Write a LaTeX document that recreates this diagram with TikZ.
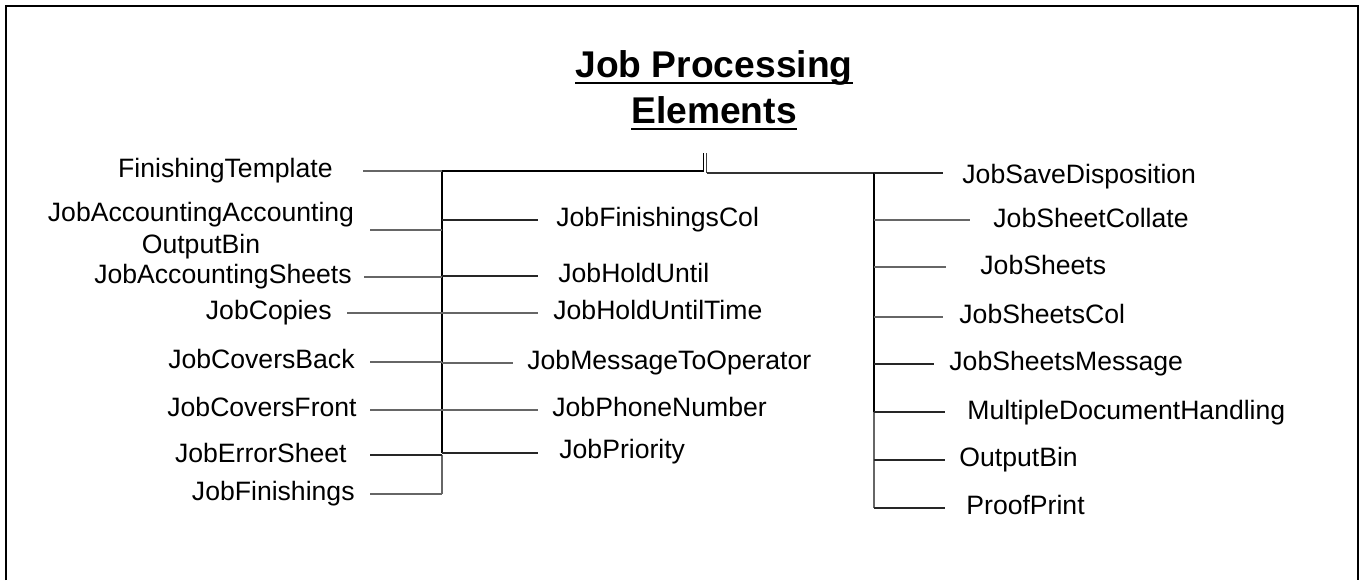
\documentclass[tikz,border=0pt]{standalone}
\usepackage{fontspec}
\setmainfont{Liberation Sans}
\newcommand\myul[1]{\setbox0\hbox{#1}\rlap{\rule[-3.6pt]{\wd0}{1.1pt}}\box0}
\begin{document}
\begin{tikzpicture}[x=0.5pt,y=-0.5pt,
  lbl/.style={inner sep=0pt, font=\fontsize{13.3}{16}\selectfont, text height=9.6pt, text depth=2.8pt},
  lbl2/.style={inner sep=0pt, font=\fontsize{13.3}{16}\selectfont, align=center},
  ttl/.style={inner sep=0pt, font=\fontsize{18.6}{23}\selectfont\bfseries, anchor=base},
  trunk/.style={line width=1pt, black},
  trunkg/.style={line width=0.7pt, black!60},
  br/.style={line width=0.6pt, black!85},
  brg/.style={line width=0.6pt, black!60},
  frame/.style={line width=1.1pt, black}]
\useasboundingbox (0,0) rectangle (1364,580);
% frame (top, left, right; no bottom)
\draw[frame] (6,580) -- (6,6) -- (1358,6) -- (1358,580);
% title
\node[ttl] (title1) at (714,77) {\myul{Job Processing}};
\node[ttl] (title2) at (714,123) {\myul{Elements}};
% junction coordinates
\coordinate (top) at (703.5,153);
\coordinate (topL) at (703.5,171);
\coordinate (topR) at (706.5,173);
\coordinate (topR0) at (706.5,153);
\coordinate (L0) at (442,171);
\coordinate (L1) at (442,230);
\coordinate (L2) at (442,277);
\coordinate (L3) at (442,313);
\coordinate (L4) at (442,362);
\coordinate (L5) at (442,410);
\coordinate (L6) at (442,455);
\coordinate (L7) at (442,494);
\coordinate (M1) at (442,220);
\coordinate (M2) at (442,276);
\coordinate (M3) at (442,313);
\coordinate (M4) at (442,363);
\coordinate (M5) at (442,410);
\coordinate (M6) at (442,453);
\coordinate (R0) at (874,173);
\coordinate (R2) at (874,220);
\coordinate (R3) at (874,267);
\coordinate (R4) at (874,317);
\coordinate (R5) at (874,364);
\coordinate (R6) at (874,412);
\coordinate (R7) at (874,460);
\coordinate (R8) at (874,508);
% main structure
\draw[line width=0.8pt] (top) -- (topL);
\draw[line width=0.8pt, black!75] (topR0) -- (topR);
\draw[trunk] (topL) -- (L0) -- (M6);
\draw[trunkg] (L6) -- (L7);
\draw[line width=0.8pt, black!80] (topR) -- (R0);
\draw[trunk] (R0) -- (R6);
\draw[trunkg] (R6) -- (R8);
% left labels
\node[lbl, anchor=east] (ft) at (333,171) {FinishingTemplate};
\node[lbl2] (jaa) at (201,231) {JobAccountingAccounting\\OutputBin};
\node[lbl, anchor=east] (jas) at (352,277) {JobAccountingSheets};
\node[lbl, anchor=east] (jc) at (332,313) {JobCopies};
\node[lbl, anchor=east] (jcb) at (355,362) {JobCoversBack};
\node[lbl, anchor=east] (jcf) at (357,410) {JobCoversFront};
\node[lbl, anchor=east] (jes) at (347,456) {JobErrorSheet};
\node[lbl, anchor=east] (jf) at (355,494) {JobFinishings};
\draw[brg] (363,171) -- (L0);
\draw[brg] (370,230) -- (L1);
\draw[brg] (364,277) -- (L2);
\draw[brg] (347,313) -- (L3);
\draw[brg] (370,362) -- (L4);
\draw[brg] (370,410) -- (L5);
\draw[br] (370,455) -- (L6);
\draw[brg] (370,494) -- (L7);
% middle labels
\node[lbl, anchor=west] (jfc) at (556,220) {JobFinishingsCol};
\node[lbl, anchor=west] (jhu) at (558,276) {JobHoldUntil};
\node[lbl, anchor=west] (jhut) at (553,313) {JobHoldUntilTime};
\node[lbl, anchor=west] (jmo) at (527,363) {JobMessageToOperator};
\node[lbl, anchor=west] (jpn) at (552,410) {JobPhoneNumber};
\node[lbl, anchor=west] (jp) at (559,452) {JobPriority};
\draw[br] (M1) -- (538,220);
\draw[br] (M2) -- (538,276);
\draw[brg] (M3) -- (538,313);
\draw[brg] (M4) -- (513,363);
\draw[brg] (M5) -- (538,410);
\draw[br] (M6) -- (538,453);
% right labels
\node[lbl, anchor=west] (jsd) at (962,177) {JobSaveDisposition};
\node[lbl, anchor=west] (jsc) at (993,221) {JobSheetCollate};
\node[lbl, anchor=west] (js) at (980,268) {JobSheets};
\node[lbl, anchor=west] (jscol) at (959,317) {JobSheetsCol};
\node[lbl, anchor=west] (jsm) at (949,364) {JobSheetsMessage};
\node[lbl, anchor=west] (mdh) at (967,413) {MultipleDocumentHandling};
\node[lbl, anchor=west] (ob) at (959,460) {OutputBin};
\node[lbl, anchor=west] (pp) at (966,508) {ProofPrint};
\draw[br] (R0) -- (943,173);
\draw[brg] (R2) -- (970,220);
\draw[brg] (R3) -- (946,267);
\draw[brg] (R4) -- (943,317);
\draw[br] (R5) -- (934,364);
\draw[br] (R6) -- (945,412);
\draw[br] (R7) -- (945,460);
\draw[br] (R8) -- (945,508);
\end{tikzpicture}
\end{document}
